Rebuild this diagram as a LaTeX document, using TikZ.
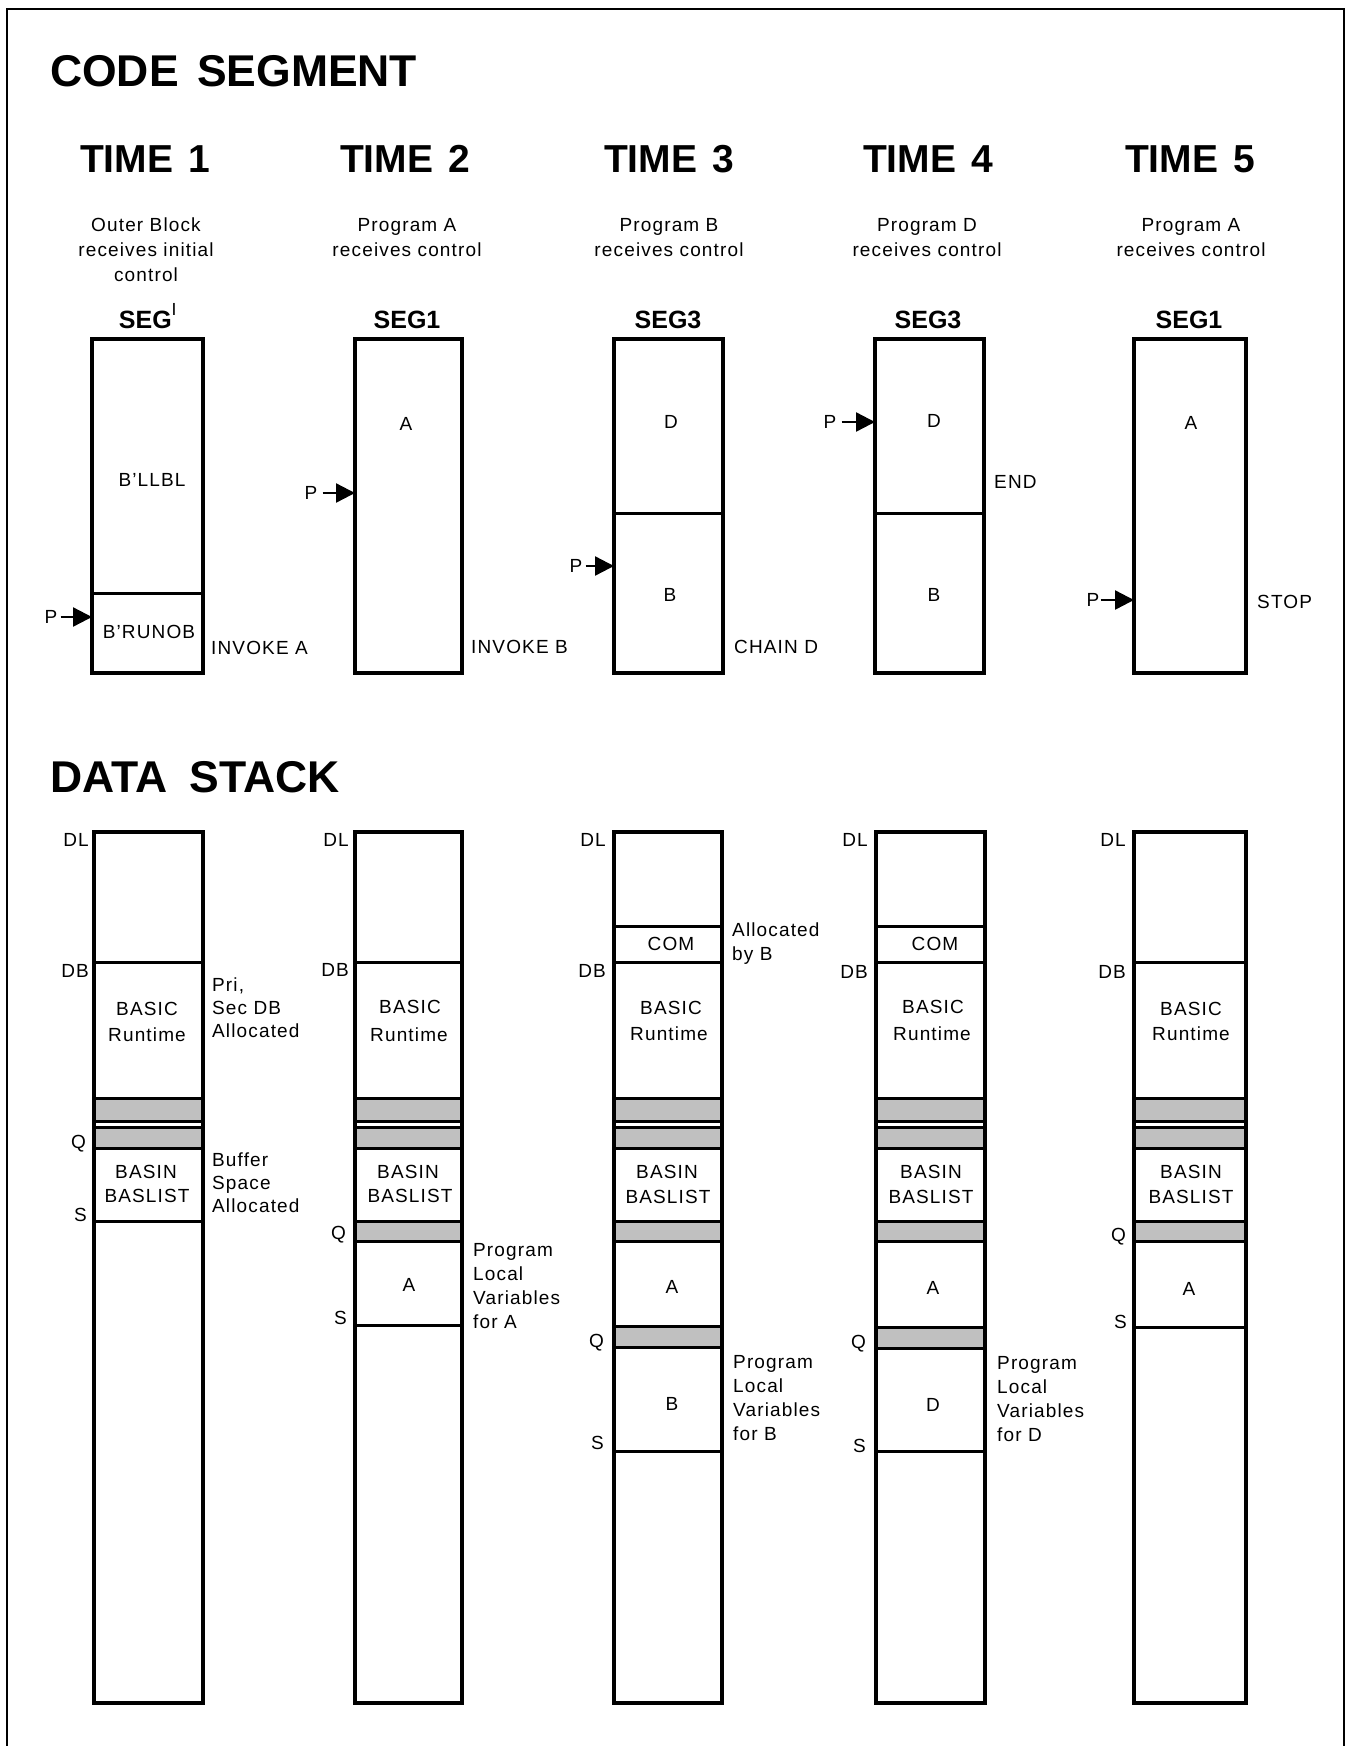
\documentclass[tikz,border=0pt]{standalone}
\usepackage{fontspec}
\setmainfont{Liberation Sans}
\newfontfamily\lab{Liberation Sans}[LetterSpace=6]
\usetikzlibrary{arrows.meta}
\definecolor{bandgray}{RGB}{192,192,192}
\begin{document}
\begin{tikzpicture}[x=1pt,y=-1pt,
  frame/.style={line width=2.4pt},
  box/.style={line width=3.4pt},
  div/.style={line width=3pt},
  bandst/.style={fill=bandgray,draw=black,line width=3pt},
  txt/.style={font={\lab\fontsize{19}{23}\selectfont},inner sep=0pt,text height=13.6pt,text depth=0pt},
  ltxt/.style={txt,anchor=west},
  rtxt/.style={txt,anchor=east},
  bigh/.style={font={\bfseries\fontsize{44.5}{50}\selectfont},inner sep=0pt,text height=32pt,text depth=0pt,anchor=west},
  timeh/.style={font={\bfseries\fontsize{39}{44}\selectfont},inner sep=0pt,text height=28pt,text depth=0pt},
  segh/.style={font={\bfseries\fontsize{25}{30}\selectfont},inner sep=0pt,text height=18pt,text depth=0pt},
  parrow/.style={line width=2.4pt,-{Triangle[length=19pt,width=19pt]}},
]
\useasboundingbox (0,0) rectangle (1348,1746);
\draw[frame] (7,1750) -- (7,9) -- (1344,9) -- (1344,1750);

% ---------------- CODE SEGMENT ----------------
\node[bigh] (hcode) at (50,70) {CODE\hspace{6pt} SEGMENT};

\node[timeh] (t1) at (145,158) {TIME\hspace{4pt} 1};
\node[timeh] (t2) at (405,158) {TIME\hspace{4pt} 2};
\node[timeh] (t3) at (669,158) {TIME\hspace{4pt} 3};
\node[timeh] (t4) at (928,158) {TIME\hspace{4pt} 4};
\node[timeh] (t5) at (1190,158) {TIME\hspace{4pt} 5};

\node[txt] (d1a) at (146,225) {Outer Block};
\node[txt] (d1b) at (146,250) {receives initial};
\node[txt] (d1c) at (146,275) {control};
\node[txt] (d2a) at (407,225) {Program A};
\node[txt] (d2b) at (407,250) {receives control};
\node[txt] (d3a) at (669,225) {Program B};
\node[txt] (d3b) at (669,250) {receives control};
\node[txt] (d4a) at (927,225) {Program D};
\node[txt] (d4b) at (927,250) {receives control};
\node[txt] (d5a) at (1191,225) {Program A};
\node[txt] (d5b) at (1191,250) {receives control};

\node[segh] (s1) at (148,319) {SEG\raisebox{3pt}{\textsuperscript{\mdseries I}}};
\node[segh] (s2) at (407,319) {SEG1};
\node[segh] (s3) at (668,319) {SEG3};
\node[segh] (s4) at (928,319) {SEG3};
\node[segh] (s5) at (1189,319) {SEG1};

% boxes
\draw[div] (92,593) -- (203,593);
\draw[box] (92,339) rectangle (203,673);
\draw[box] (355,339) rectangle (462,673);
\draw[div] (614,513) -- (723,513);
\draw[box] (614,339) rectangle (723,673);
\draw[div] (875,513) -- (984,513);
\draw[box] (875,339) rectangle (984,673);
\draw[box] (1134,339) rectangle (1246,673);

\node[txt] (c1a) at (152,480) {B’LLBL};
\node[txt] (c1b) at (149,632) {B’RUNOB};
\node[txt] (c2a) at (406,424) {A};
\node[txt] (c3a) at (671,422) {D};
\node[txt] (c3b) at (670,595) {B};
\node[txt] (c4a) at (934,421) {D};
\node[txt] (c4b) at (934,595) {B};
\node[txt] (c5a) at (1191,423) {A};

\node[ltxt] (r1) at (211,648) {INVOKE A};
\node[ltxt] (r2) at (471,647) {INVOKE B};
\node[ltxt] (r3) at (734,647) {CHAIN D};
\node[ltxt] (r4) at (994,482) {END};
\node[ltxt] (r5) at (1257,602) {STOP};

% P pointers
\node[txt] (p1) at (51,617) {P};
\coordinate (p1t) at (92,617);
\draw[parrow] (p1.east) ++(3,0) -- (p1t);
\node[txt] (p2) at (311,493) {P};
\coordinate (p2t) at (355,493);
\draw[parrow] (p2.east) ++(5,0) -- (p2t);
\node[txt] (p3) at (576,566) {P};
\coordinate (p3t) at (614,566);
\draw[parrow] (p3.east) ++(3,0) -- (p3t);
\node[txt] (p4) at (830,422) {P};
\coordinate (p4t) at (875,422);
\draw[parrow] (p4.east) ++(5,0) -- (p4t);
\node[txt] (p5) at (1093,600) {P};
\coordinate (p5t) at (1134,600);
\draw[parrow] (p5.east) ++(1,0) -- (p5t);

% ---------------- DATA STACK ----------------
\node[bigh] (hdata) at (50,776) {DATA\hspace{10pt} STACK};

% column 1
\draw[div] (94,962) -- (203,962);
\draw[bandst] (94,1098) rectangle (203,1121);
\draw[bandst] (94,1127) rectangle (203,1148);
\draw[div] (94,1221) -- (203,1221);
\draw[box] (94,832) rectangle (203,1703);
\node[rtxt] (dl1) at (89,840) {DL};
\node[rtxt] (db1) at (89,971) {DB};
\node[rtxt] (q1) at (86,1142) {Q};
\node[rtxt] (sl1) at (87,1215) {S};
\node[txt] (b1a) at (147,1009) {BASIC};
\node[txt] (b1b) at (147,1035) {Runtime};
\node[txt] (b1c) at (146,1172) {BASIN};
\node[txt] (b1d) at (147,1196) {BASLIST};
\node[ltxt] (n1a) at (212,985) {Pri,};
\node[ltxt] (n1b) at (212,1008) {Sec DB};
\node[ltxt] (n1c) at (212,1031) {Allocated};
\node[ltxt] (n1d) at (212,1160) {Buffer};
\node[ltxt] (n1e) at (212,1183) {Space};
\node[ltxt] (n1f) at (212,1206) {Allocated};

% column 2
\draw[div] (355,962) -- (462,962);
\draw[bandst] (355,1098) rectangle (462,1121);
\draw[bandst] (355,1127) rectangle (462,1148);
\draw[bandst] (355,1221) rectangle (462,1241);
\draw[div] (355,1325) -- (462,1325);
\draw[box] (355,832) rectangle (462,1703);
\node[rtxt] (dl2) at (349,840) {DL};
\node[rtxt] (db2) at (349,970) {DB};
\node[rtxt] (q2) at (346,1233) {Q};
\node[rtxt] (sl2) at (347,1318) {S};
\node[txt] (b2a) at (410,1007) {BASIC};
\node[txt] (b2b) at (409,1035) {Runtime};
\node[txt] (b2c) at (408,1172) {BASIN};
\node[txt] (b2d) at (410,1196) {BASLIST};
\node[txt] (b2e) at (409,1285) {A};
\node[ltxt] (n2a) at (473,1250) {Program};
\node[ltxt] (n2b) at (473,1274) {Local};
\node[ltxt] (n2c) at (473,1298) {Variables};
\node[ltxt] (n2d) at (473,1322) {for A};

% column 3
\draw[div] (614,926) -- (722,926);
\draw[div] (614,962) -- (722,962);
\draw[bandst] (614,1098) rectangle (722,1121);
\draw[bandst] (614,1127) rectangle (722,1148);
\draw[bandst] (614,1221) rectangle (722,1241);
\draw[bandst] (614,1326) rectangle (722,1347);
\draw[div] (614,1451) -- (722,1451);
\draw[box] (614,832) rectangle (722,1703);
\node[rtxt] (dl3) at (606,840) {DL};
\node[rtxt] (db3) at (606,971) {DB};
\node[rtxt] (q3) at (604,1341) {Q};
\node[rtxt] (sl3) at (604,1443) {S};
\node[txt] (b3o) at (671,944) {COM};
\node[txt] (b3a) at (671,1008) {BASIC};
\node[txt] (b3b) at (669,1034) {Runtime};
\node[txt] (b3c) at (667,1172) {BASIN};
\node[txt] (b3d) at (668,1197) {BASLIST};
\node[txt] (b3e) at (672,1287) {A};
\node[txt] (b3f) at (672,1404) {B};
\node[ltxt] (n3a) at (732,930) {Allocated};
\node[ltxt] (n3b) at (732,954) {by B};
\node[ltxt] (n3c) at (733,1362) {Program};
\node[ltxt] (n3d) at (733,1386) {Local};
\node[ltxt] (n3e) at (733,1410) {Variables};
\node[ltxt] (n3f) at (733,1434) {for B};

% column 4
\draw[div] (876,926) -- (985,926);
\draw[div] (876,962) -- (985,962);
\draw[bandst] (876,1098) rectangle (985,1121);
\draw[bandst] (876,1127) rectangle (985,1148);
\draw[bandst] (876,1221) rectangle (985,1241);
\draw[bandst] (876,1327) rectangle (985,1348);
\draw[div] (876,1451) -- (985,1451);
\draw[box] (876,832) rectangle (985,1703);
\node[rtxt] (dl4) at (868,840) {DL};
\node[rtxt] (db4) at (868,972) {DB};
\node[rtxt] (q4) at (866,1342) {Q};
\node[rtxt] (sl4) at (866,1446) {S};
\node[txt] (b4o) at (935,944) {COM};
\node[txt] (b4a) at (933,1007) {BASIC};
\node[txt] (b4b) at (932,1034) {Runtime};
\node[txt] (b4c) at (931,1172) {BASIN};
\node[txt] (b4d) at (931,1197) {BASLIST};
\node[txt] (b4e) at (933,1288) {A};
\node[txt] (b4f) at (933,1405) {D};
\node[ltxt] (n4c) at (997,1363) {Program};
\node[ltxt] (n4d) at (997,1387) {Local};
\node[ltxt] (n4e) at (997,1411) {Variables};
\node[ltxt] (n4f) at (997,1435) {for D};

% column 5
\draw[div] (1134,962) -- (1246,962);
\draw[bandst] (1134,1098) rectangle (1246,1121);
\draw[bandst] (1134,1127) rectangle (1246,1148);
\draw[bandst] (1134,1221) rectangle (1246,1241);
\draw[div] (1134,1327) -- (1246,1327);
\draw[box] (1134,832) rectangle (1246,1703);
\node[rtxt] (dl5) at (1126,840) {DL};
\node[rtxt] (db5) at (1126,972) {DB};
\node[rtxt] (q5) at (1126,1235) {Q};
\node[rtxt] (sl5) at (1127,1322) {S};
\node[txt] (b5a) at (1191,1009) {BASIC};
\node[txt] (b5b) at (1191,1034) {Runtime};
\node[txt] (b5c) at (1191,1172) {BASIN};
\node[txt] (b5d) at (1191,1197) {BASLIST};
\node[txt] (b5e) at (1189,1289) {A};
\end{tikzpicture}
\end{document}
